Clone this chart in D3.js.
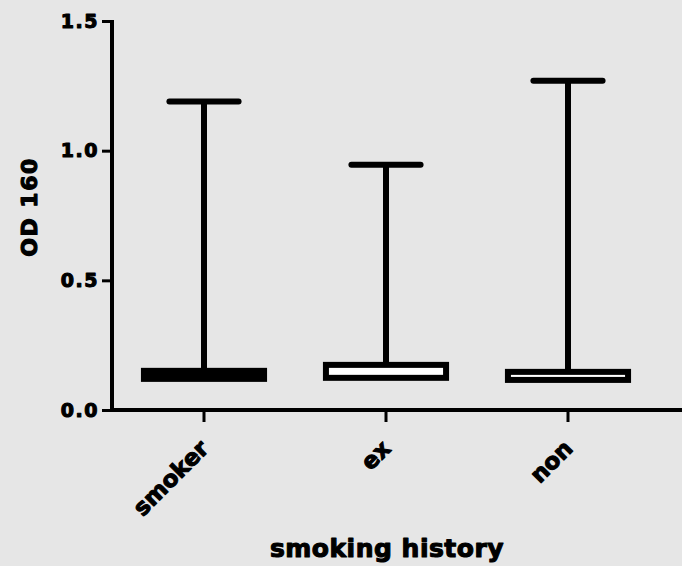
<!DOCTYPE html>
<html>
<head>
<meta charset="utf-8">
<script src="https://cdn.jsdelivr.net/npm/d3@7"></script>
<style>
  html, body { margin: 0; padding: 0; background: #e6e6e6; }
  svg { display: block; }
  text { font-family: "DejaVu Sans", sans-serif; font-weight: bold; fill: #000; stroke: #000; stroke-width: 1.1px; stroke-linejoin: round; }
</style>
</head>
<body>
<svg id="chart" width="682" height="566"></svg>
<script>
// box plot data
const categories = ['smoker', 'ex', 'non'];
const q1 = [0.120, 0.124, 0.116];
const q3 = [0.151, 0.174, 0.147];
const maxima = [1.19, 0.946, 1.27];
const box_fill = ['#000', '#fff', '#fff'];
const y_ticks = [0.0, 0.5, 1.0, 1.5];

const width = 682, height = 566;
const plot_left = 112, plot_bottom = 410, plot_top = 21;

const svg = d3.select('#chart');

svg.append('rect')
  .attr('width', width)
  .attr('height', height)
  .attr('fill', '#e6e6e6');

const x = d3.scaleBand()
  .domain(categories)
  .range([113, 659])
  .padding(0);

const y = d3.scaleLinear()
  .domain([0, 1.5])
  .range([plot_bottom, plot_top]);

const cx = (c) => x(c) + x.bandwidth() / 2;

// y axis
const y_axis = svg.append('g')
  .attr('transform', `translate(${plot_left},0)`)
  .call(d3.axisLeft(y).tickValues(y_ticks).tickFormat(d3.format('.1f')).tickSize(10).tickPadding(3));

y_axis.select('.domain')
  .attr('stroke-width', 4)
  .attr('d', `M0,${plot_top - 1}V${plot_bottom + 2}`);
y_axis.selectAll('.tick line').attr('stroke-width', 3);
y_axis.selectAll('.tick text')
  .attr('font-size', 19)
  .attr('letter-spacing', 1.5)
  .attr('font-family', '"DejaVu Sans", sans-serif')
  .attr('font-weight', 'bold');

// x axis
const x_axis = svg.append('g')
  .attr('transform', `translate(0,${plot_bottom})`)
  .call(d3.axisBottom(x).tickSize(12).tickFormat(''));

x_axis.select('.domain').remove();
x_axis.selectAll('.tick line').attr('stroke-width', 3);
x_axis.append('line')
  .attr('x1', plot_left - 2)
  .attr('x2', width)
  .attr('stroke', '#000')
  .attr('stroke-width', 4);

svg.append('g').selectAll('text')
  .data(categories)
  .enter()
  .append('text')
  .attr('transform', (d) => `translate(${cx(d) + 6},${plot_bottom + 40}) rotate(-45)`)
  .attr('text-anchor', 'end')
  .attr('font-size', 23)
  .text((d) => d);

// axis titles
svg.append('text')
  .attr('transform', `translate(37,207) rotate(-90)`)
  .attr('text-anchor', 'middle')
  .attr('font-size', 22)
  .attr('letter-spacing', 1.5)
  .text('OD 160');

svg.append('text')
  .attr('x', 387)
  .attr('y', 557)
  .attr('text-anchor', 'middle')
  .attr('font-size', 25)
  .attr('letter-spacing', 0.5)
  .text('smoking history');

// boxes and whiskers
const boxes = svg.append('g').selectAll('g')
  .data(categories)
  .enter()
  .append('g');

boxes.append('line')
  .attr('x1', (d) => cx(d))
  .attr('x2', (d) => cx(d))
  .attr('y1', (d, i) => y(maxima[i]))
  .attr('y2', (d, i) => y(q3[i]))
  .attr('stroke', '#000')
  .attr('stroke-width', 6);

boxes.append('line')
  .attr('x1', (d) => cx(d) - x.bandwidth() * 0.19)
  .attr('x2', (d) => cx(d) + x.bandwidth() * 0.19)
  .attr('y1', (d, i) => y(maxima[i]))
  .attr('y2', (d, i) => y(maxima[i]))
  .attr('stroke', '#000')
  .attr('stroke-width', 6)
  .attr('stroke-linecap', 'round');

boxes.append('rect')
  .attr('x', (d) => cx(d) - x.bandwidth() * 0.33)
  .attr('width', x.bandwidth() * 0.66)
  .attr('y', (d, i) => y(q3[i]))
  .attr('height', (d, i) => y(q1[i]) - y(q3[i]))
  .attr('fill', (d, i) => box_fill[i])
  .attr('stroke', '#000')
  .attr('stroke-width', 6);
</script>
</body>
</html>
